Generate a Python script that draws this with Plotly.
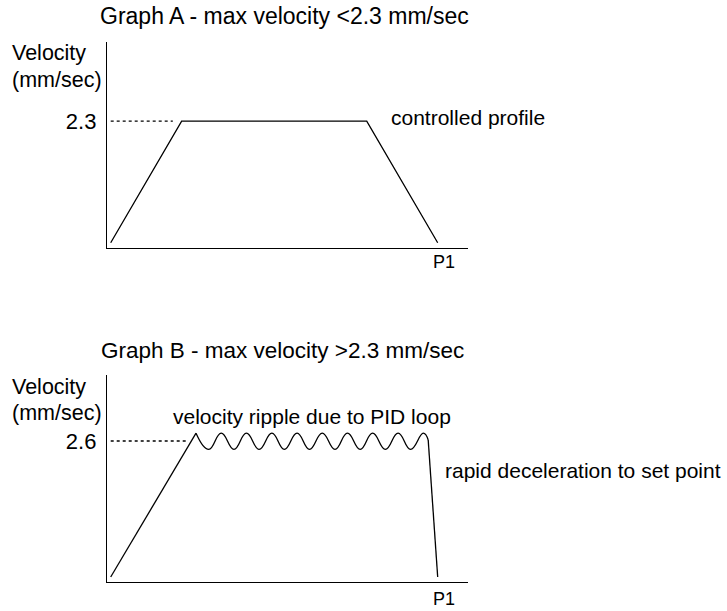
import plotly.graph_objects as go

FONT = "Liberation Sans, Arial, sans-serif"
W, H = 727, 611

# Graph A - controlled trapezoid profile (position in % of travel to P1, velocity in mm/sec)
a_pos = [0, 21.7, 78.3, 100]
a_vel = [0, 2.3, 2.3, 0]
a_max = 2.3
a_dot_pos = [0, 19.0]

# Graph B - overshoot with ripple at top speed, then hard stop at P1
b_rise_pos = [0, 26.1]
b_rise_vel = [0, 2.75]
b_ripple_pos = [26.1, 30.0, 33.8, 37.7, 41.5, 45.4, 49.3, 53.1, 57.0, 60.8,
                64.7, 68.6, 72.4, 76.3, 80.1, 84.0, 87.9, 91.7, 95.6, 97.1]
b_ripple_vel = [2.75, 2.44, 2.75, 2.44, 2.75, 2.44, 2.75, 2.44, 2.75, 2.44,
                2.75, 2.44, 2.75, 2.44, 2.75, 2.44, 2.75, 2.44, 2.75, 2.62]
b_drop_pos = [97.1, 100]
b_drop_vel = [2.62, 0]
b_max = 2.6
b_dot_pos = [0, 23.1]


def px(x):
    """pixel from left -> paper fraction"""
    return x / W


def py(y):
    """pixel from top -> paper fraction"""
    return 1 - y / H


def line(x, y, xa, ya, dash="solid", shape="linear"):
    return go.Scatter(x=x, y=y, xaxis=xa, yaxis=ya, mode="lines",
                      line=dict(color="black", width=1.3, dash=dash, shape=shape,
                                smoothing=1.3),
                      hoverinfo="skip")


def note(text, x, y, size=21, xanchor="left"):
    # annotation text sits ~2.5px inside its anchor
    if xanchor == "left":
        x -= 2.5
    return dict(text=text, x=px(x), y=py(y), xref="paper", yref="paper",
                xanchor=xanchor, yanchor="middle", showarrow=False,
                font=dict(family=FONT, size=size, color="black"))


fig = go.Figure()

# Graph A
fig.add_trace(line(a_pos, a_vel, "x", "y"))
fig.add_trace(line(a_dot_pos, [a_max, a_max], "x", "y", dash="dot"))

# Graph B
fig.add_trace(line(b_rise_pos, b_rise_vel, "x2", "y2"))
fig.add_trace(line(b_ripple_pos, b_ripple_vel, "x2", "y2", shape="spline"))
fig.add_trace(line(b_drop_pos, b_drop_vel, "x2", "y2"))
fig.add_trace(line(b_dot_pos, [b_max, b_max], "x2", "y2", dash="dot"))

xcommon = dict(showline=True, linecolor="black", linewidth=1.3, showgrid=False,
               zeroline=False, showticklabels=False, ticks="", range=[-1.13, 109.27],
               fixedrange=True)
ycommon = dict(showline=True, linecolor="black", linewidth=1.3, showgrid=False,
               zeroline=False, ticks="", ticklabelstandoff=5, fixedrange=True,
               tickfont=dict(family=FONT, size=22, color="black"))

fig.update_layout(
    width=W, height=H,
    margin=dict(l=0, r=0, t=0, b=0),
    paper_bgcolor="white", plot_bgcolor="white",
    showlegend=False,
    xaxis=dict(xcommon, domain=[px(107), px(468)], anchor="y"),
    yaxis=dict(ycommon, domain=[py(248), py(41.7)], anchor="x",
               range=[-0.10, 3.80], tickvals=[a_max], ticktext=[str(a_max)]),
    xaxis2=dict(xcommon, domain=[px(107), px(468)], anchor="y2"),
    yaxis2=dict(ycommon, domain=[py(582), py(375)], anchor="x2",
                range=[-0.096, 3.862], tickvals=[b_max], ticktext=[str(b_max)]),
    annotations=[
        note("Graph A - max velocity <2.3 mm/sec", 100, 16.5, size=23),
        note("Velocity", 12.7, 53, size=21.5),
        note("(mm/sec)", 12.7, 80, size=21.5),
        note("controlled profile", 391.7, 117.5),
        note("P1", 444, 261.7, size=18, xanchor="center"),
        note("Graph B - max velocity >2.3 mm/sec", 101.7, 350, size=22.5),
        note("Velocity", 12.7, 387.5, size=21.5),
        note("(mm/sec)", 12.7, 413, size=21.5),
        note("velocity ripple due to PID loop", 173.5, 416),
        note("rapid deceleration to set point", 445, 470.5),
        note("P1", 444, 599, size=18, xanchor="center"),
    ],
)

# drop the browser's default 8px body margin so the figure fills the window
fig.write_html("out.html", config={"displayModeBar": False},
               post_script="document.body.style.margin = '0';")
